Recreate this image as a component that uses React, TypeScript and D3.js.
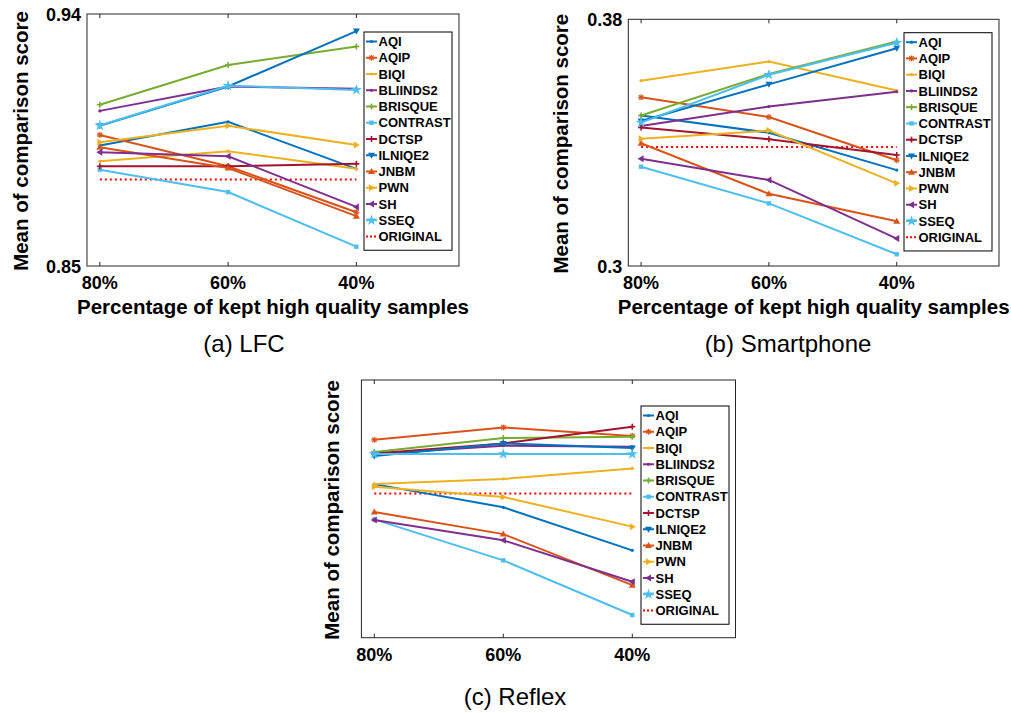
import React from "react";
import * as d3 from "d3";

const methods = ["AQI","AQIP","BIQI","BLIINDS2","BRISQUE","CONTRAST","DCTSP","ILNIQE2","JNBM","PWN","SH","SSEQ"];
const colors = ["#0072BD","#D95319","#EDB120","#7E2F8E","#77AC30","#4DBEEE","#A2142F","#0072BD","#D95319","#EDB120","#7E2F8E","#4DBEEE"];
const markers = ["dot","asterisk","dot","dot","plus","square","plus","vtri","utri","rtri","ltri","star"];
const xLabels = ["80%","60%","40%"];

// (a) LFC
const lfcScores = [
  [0.8930,0.9015,0.8847],
  [0.8968,0.8856,0.8692],
  [0.8874,0.8910,0.8847],
  [0.9054,0.9141,0.9133],
  [0.9076,0.9218,0.9284],
  [0.8844,0.8764,0.8569],
  [0.8856,0.8856,0.8865],
  [0.9001,0.9141,0.9339],
  [0.8924,0.8850,0.8678],
  [0.8942,0.9001,0.8932],
  [0.8906,0.8892,0.8711],
  [0.9002,0.9144,0.9129],
];
const lfcOriginal = 0.8809;
const lfcTicks = [0.85, 0.94];

// (b) Smartphone
const phoneScores = [
  [0.3488,0.3432,0.3311],
  [0.3547,0.3483,0.3343],
  [0.3601,0.3663,0.3569],
  [0.3454,0.3517,0.3565],
  [0.3488,0.3623,0.3728],
  [0.3322,0.3203,0.3038],
  [0.3449,0.3411,0.3360],
  [0.3470,0.3589,0.3706],
  [0.3398,0.3234,0.3145],
  [0.3413,0.3439,0.3268],
  [0.3348,0.3279,0.3089],
  [0.3465,0.3620,0.3724],
];
const phoneOriginal = 0.3386;
const phoneTicks = [0.30, 0.38];

// (c) Reflex (no tick labels; relative units)
const reflexScores = [
  [59.6,50.6,33.9],
  [76.8,81.6,78.3],
  [59.6,61.6,65.7],
  [71.3,74.5,74.1],
  [72.1,77.5,78.0],
  [45.9,30.0,8.8],
  [71.5,75.4,81.9],
  [70.5,75.4,73.6],
  [48.8,40.2,20.4],
  [58.6,54.6,43.1],
  [45.7,37.8,21.7],
  [71.3,71.3,71.3],
];
const reflexOriginal = 56.0;
const reflexTicks: number[] = [];

const FONT = "'Liberation Sans', Arial, Helvetica, sans-serif";

function Marker({ type, x, y, color }: { type: string; x: number; y: number; color: string }) {
  const s = 3;
  switch (type) {
    case "dot":
      return <circle cx={x} cy={y} r={1.6} fill={color} />;
    case "asterisk":
      return (
        <g stroke={color} strokeWidth={1.2}>
          <line x1={x - s} y1={y} x2={x + s} y2={y} />
          <line x1={x} y1={y - s} x2={x} y2={y + s} />
          <line x1={x - 2.2} y1={y - 2.2} x2={x + 2.2} y2={y + 2.2} />
          <line x1={x - 2.2} y1={y + 2.2} x2={x + 2.2} y2={y - 2.2} />
        </g>
      );
    case "plus":
      return (
        <g stroke={color} strokeWidth={1.6}>
          <line x1={x - s} y1={y} x2={x + s} y2={y} />
          <line x1={x} y1={y - s} x2={x} y2={y + s} />
        </g>
      );
    case "square":
      return <rect x={x - 2.2} y={y - 2.2} width={4.4} height={4.4} fill={color} />;
    case "utri":
      return <path d={`M${x},${y - 3.5}L${x + 3.5},${y + 2.5}L${x - 3.5},${y + 2.5}Z`} fill={color} />;
    case "vtri":
      return <path d={`M${x},${y + 3.5}L${x + 3.5},${y - 2.5}L${x - 3.5},${y - 2.5}Z`} fill={color} />;
    case "rtri":
      return <path d={`M${x + 3.5},${y}L${x - 2.5},${y - 3.5}L${x - 2.5},${y + 3.5}Z`} fill={color} />;
    case "ltri":
      return <path d={`M${x - 3.5},${y}L${x + 2.5},${y - 3.5}L${x + 2.5},${y + 3.5}Z`} fill={color} />;
    case "star": {
      const p = d3.symbol().type(d3.symbolStar).size(38)();
      return <path d={p || ""} transform={`translate(${x},${y})`} fill={color} />;
    }
    default:
      return null;
  }
}

interface PanelProps {
  left: number; top: number; right: number; bottom: number;
  yDomain: [number, number];
  yTicks: number[];
  scores: number[][];
  original: number;
  legendX: number; legendY: number;
  yLabelX: number;
  xTitle: boolean;
  caption: string;
  captionX: number; captionY: number;
}

function Panel(p: PanelProps) {
  const x = d3.scaleLinear().domain([0.9, 3.8]).range([p.left, p.right]);
  const y = d3.scaleLinear().domain(p.yDomain).range([p.bottom, p.top]);
  const line = d3.line<number>().x((_, i) => x(i + 1)).y((v) => y(v));
  const axisColor = "#262626";
  const legendW = 88;
  const step = 16.25;
  const entries = [...methods, "ORIGINAL"];
  const legendH = entries.length * step + 7;
  const midY = (p.top + p.bottom) / 2;
  return (
    <g>
      <line x1={x(1)} x2={x(3)} y1={y(p.original)} y2={y(p.original)} stroke="#FF0000" strokeWidth={2} strokeDasharray="2,3" />
      {p.scores.map((row, k) => (
        <g key={k}>
          <path d={line(row) || ""} fill="none" stroke={colors[k]} strokeWidth={2} />
          {row.map((v, i) => (
            <Marker key={i} type={markers[k]} x={x(i + 1)} y={y(v)} color={colors[k]} />
          ))}
        </g>
      ))}
      <rect x={p.left} y={p.top} width={p.right - p.left} height={p.bottom - p.top} fill="none" stroke={axisColor} strokeWidth={1} />
      {[1, 2, 3].map((t) => (
        <g key={t}>
          <line x1={x(t)} x2={x(t)} y1={p.bottom} y2={p.bottom - 4} stroke={axisColor} />
          <line x1={x(t)} x2={x(t)} y1={p.top} y2={p.top + 4} stroke={axisColor} />
          <text x={x(t)} y={p.bottom + 23} textAnchor="middle" fontFamily={FONT} fontWeight="bold" fontSize={18} fill="#000">
            {xLabels[t - 1]}
          </text>
        </g>
      ))}
      {p.yTicks.map((t) => (
        <text key={t} x={p.left - 6} y={y(t) + 6.5} textAnchor="end" fontFamily={FONT} fontWeight="bold" fontSize={18} fill="#000">
          {t === 0.3 ? "0.3" : String(t)}
        </text>
      ))}
      {p.xTitle && (
        <text x={(p.left + p.right) / 2} y={p.bottom + 48} textAnchor="middle" fontFamily={FONT} fontWeight="bold" fontSize={20.5} fill="#000">
          Percentage of kept high quality samples
        </text>
      )}
      <text transform={`translate(${p.yLabelX},${midY + 1}) rotate(-90)`} textAnchor="middle" dominantBaseline="central" fontFamily={FONT} fontWeight="bold" fontSize={20.5} fill="#000">
        Mean of comparison score
      </text>
      <text x={p.captionX} y={p.captionY} textAnchor="middle" fontFamily={FONT} fontSize={24} fill="#000">
        {p.caption}
      </text>
      <rect x={p.legendX} y={p.legendY} width={legendW} height={legendH} fill="#fff" stroke="#000" strokeWidth={1} />
      {entries.map((name, i) => {
        const ey = p.legendY + 9.5 + i * step;
        const isOrig = name === "ORIGINAL";
        const c = isOrig ? "#FF0000" : colors[i];
        return (
          <g key={name}>
            <line x1={p.legendX + 2} x2={p.legendX + 13} y1={ey} y2={ey} stroke={c} strokeWidth={2} strokeDasharray={isOrig ? "2,2" : undefined} />
            {!isOrig && <Marker type={markers[i]} x={p.legendX + 7.5} y={ey} color={c} />}
            <text x={p.legendX + 14.5} y={ey + 4.7} fontFamily={FONT} fontWeight="bold" fontSize={13} fill="#000">
              {name}
            </text>
          </g>
        );
      })}
    </g>
  );
}

export default function App() {
  return (
    <svg width={1011} height={713} style={{ position: "absolute", left: 0, top: 0, background: "#fff" }}>
      <rect x={0} y={0} width={1011} height={713} fill="#fff" />
      <Panel left={87} top={14} right={459} bottom={266} yDomain={[0.85, 0.94]} yTicks={lfcTicks}
        scores={lfcScores} original={lfcOriginal} legendX={364} legendY={32} yLabelX={20}
        xTitle={true} caption="(a) LFC" captionX={244} captionY={351.5} />
      <Panel left={628.3} top={19.3} right={999} bottom={266} yDomain={[0.30, 0.38]} yTicks={phoneTicks}
        scores={phoneScores} original={phoneOriginal} legendX={904} legendY={32.7} yLabelX={560}
        xTitle={true} caption="(b) Smartphone" captionX={788} captionY={351.5} />
      <Panel left={361.4} top={380} right={735.5} bottom={637.7} yDomain={[0, 100]} yTicks={reflexTicks}
        scores={reflexScores} original={reflexOriginal} legendX={641} legendY={406} yLabelX={331}
        xTitle={false} caption="(c) Reflex" captionX={515} captionY={705} />
    </svg>
  );
}
